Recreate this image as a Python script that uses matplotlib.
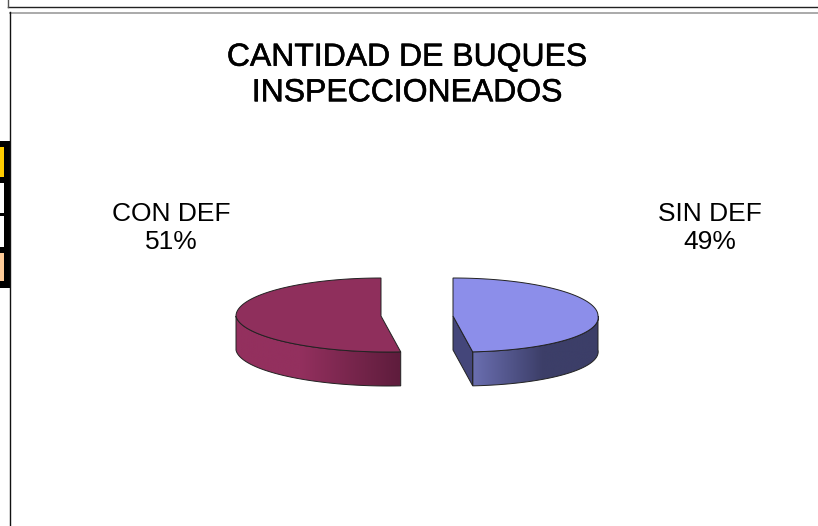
# plot.py
# 3D-looking pie chart, drawn on a single pixel-sized axes
import numpy as np
import matplotlib
matplotlib.use("Agg")
import matplotlib.pyplot as plt
import matplotlib.patheffects as pe
from matplotlib.colors import to_rgb
from matplotlib.patches import Polygon, Rectangle

plt.rcParams['font.family'] = ['Liberation Sans', 'DejaVu Sans']

# Data
TITLE = "CANTIDAD DE BUQUES\nINSPECCIONEADOS"
categories = ["CON DEF", "SIN DEF"]
shares = [51.4, 48.6]
cell_colors = ["#ffcc00", "#ffffff", "#ffffff", "#ffcc99"]

# Layout (pixels)
W, H = 818, 526
RX, RY_BACK, RY_FRONT, DEPTH = 145, 38, 36, 34
FRONT_SHIFT = 7  # front of the rim leans right, like the perspective in the original
CENTERS = [(381, 316), (453, 316)]


def rim(cx, cy, a0, a1, n=200):
    t = np.radians(np.linspace(a0, a1, n))
    s = np.sin(t)
    front = np.minimum(s, 0)
    x = cx + RX * np.cos(t) - FRONT_SHIFT * front
    y = cy - np.where(s > 0, RY_BACK, RY_FRONT) * s
    return x, y


def shaded(ax, pts, left, right, x0, x1):
    # side wall: horizontal gradient clipped to the wall outline, flat past x1
    ax.add_patch(Polygon(pts, closed=True, fc="none", ec="#222222", lw=0.7, zorder=3))
    xmin, xmax = pts[:, 0].min(), pts[:, 0].max()
    ramp = np.clip((np.linspace(xmin, xmax, 256) - x0) / (x1 - x0), 0, 1)[None, :, None]
    img = (1 - ramp) * np.array(to_rgb(left)) + ramp * np.array(to_rgb(right))
    y0, y1 = pts[:, 1].min(), pts[:, 1].max()
    im = ax.imshow(img, extent=(xmin, xmax, y1, y0), aspect="auto", zorder=2)
    im.set_clip_path(Polygon(pts, closed=True, transform=ax.transData))


fig = plt.figure(figsize=(W / 100, H / 100), dpi=100)
ax = fig.add_axes([0, 0, 1, 1])

# Slice boundaries from the shares: starts at 12 o'clock, goes counter-clockwise
split = 90 + 360 * shares[0] / sum(shares)

# Left slice
cx, cy = CENTERS[0]
xs, ys = rim(cx, cy, 180, split)
wall = np.column_stack([np.r_[xs, xs[::-1]], np.r_[ys, ys[::-1] + DEPTH]])
shaded(ax, wall, "#93305e", "#5e1c3c", 300, xs[-1])
xs, ys = rim(cx, cy, 90, split)
top = np.column_stack([np.r_[cx, xs], np.r_[cy, ys]])
ax.add_patch(Polygon(top, closed=True, fc="#8f2f5c", ec="#222222", lw=0.7, zorder=4))

# Right slice
cx, cy = CENTERS[1]
xs, ys = rim(cx, cy, split, 360)
inner = np.array([[cx, cy], [xs[0], ys[0]], [xs[0], ys[0] + DEPTH], [cx, cy + DEPTH]], dtype=float)
ax.add_patch(Polygon(inner, closed=True, fc="#44467a", ec="#222222", lw=0.7, zorder=3))
wall = np.column_stack([np.r_[xs, xs[::-1]], np.r_[ys, ys[::-1] + DEPTH]])
shaded(ax, wall, "#6a6eb0", "#3c3e68", xs[0], xs[0] + 70)
xs, ys = rim(cx, cy, split, 450)
top = np.column_stack([np.r_[cx, xs], np.r_[cy, ys]])
ax.add_patch(Polygon(top, closed=True, fc="#8c8eea", ec="#222222", lw=0.7, zorder=4))

# Title and labels
ax.text(407.5, 75.5, TITLE, ha="center", va="center", fontsize=23, linespacing=1.24,
        color="black", path_effects=[pe.withStroke(linewidth=0.4, foreground="black")])
ax.text(171, 228, f"{categories[0]}\n{round(shares[0])}%", ha="center", va="center", fontsize=19, linespacing=1.16)
ax.text(710, 228, f"{categories[1]}\n{round(shares[1])}%", ha="center", va="center", fontsize=19, linespacing=1.16)

# Page frame lines around the chart
ax.plot([7.5, W], [6.5, 6.5], color="#222222", lw=1)
ax.plot([7.5, 7.5], [0, 6.5], color="#555555", lw=1)
ax.plot([10, W], [12.5, 12.5], color="#aaaaaa", lw=1.4)
ax.plot([10, 10], [12, H], color="#111111", lw=1)

# Cut-off legend table at the left edge
ax.add_patch(Rectangle((0, 141), 10, 147, fc="black", ec="none"))
for c, (y0, y1) in zip(cell_colors, [(147, 177), (183, 213), (216, 247), (253, 281)]):
    ax.add_patch(Rectangle((0, y0), 4, y1 - y0, fc=c, ec="none"))

ax.set_xlim(0, W)
ax.set_ylim(H, 0)
ax.axis("off")
fig.savefig("out.png", dpi=100)
